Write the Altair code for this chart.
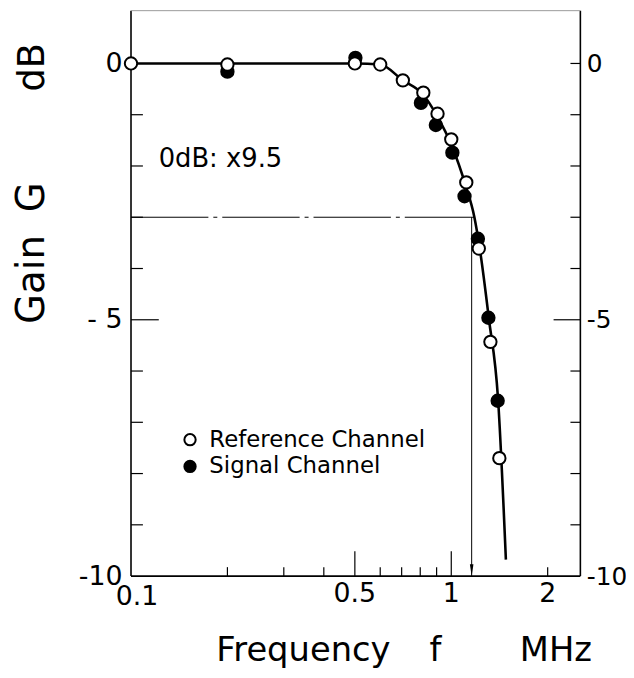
import altair as alt
import pandas as pd

# ---------------- data ----------------
ref_freq = [0.1, 0.2, 0.5, 0.6, 0.706, 0.818, 0.906, 1.0, 1.114, 1.219, 1.325, 1.413]
ref_gain = [0.0, -0.02, 0.0, -0.02, -0.33, -0.57, -0.98, -1.48, -2.32, -3.61, -5.43, -7.70]

sig_freq = [0.2, 0.502, 0.804, 0.895, 1.008, 1.10, 1.211, 1.306, 1.396]
sig_gain = [-0.16, 0.11, -0.77, -1.20, -1.74, -2.59, -3.42, -4.96, -6.58]

curve_freq = [0.1, 0.5, 0.6, 0.706, 0.82, 0.906, 1.0, 1.11, 1.18, 1.23, 1.31, 1.40, 1.481]
curve_gain = [0.0, 0.0, -0.02, -0.33, -0.62, -1.04, -1.58, -2.39, -2.99, -3.65, -4.97, -6.55, -9.68]

cut_level = [-3]
cut_freq_start = [0.1]
cut_freq_end = [1.179]
arrow_freq = [1.158]
arrow_bottom = [-10]

x_label_values = [0.5, 1, 2]
x_label_texts = ["0.5", "1", "2"]
x_first_label_value = [0.1]
x_first_label_text = ["0.1"]
y_label_values = [0, -5, -10]
x_minor_ticks = [0.2, 0.3, 0.4, 0.6, 0.7, 0.8, 0.9, 2]
x_major_ticks = [0.5, 1]
y_minor_ticks = [-1, -2, -3, -4, -6, -7, -8, -9]
y_major_ticks = [-5]
y_right_minor_ticks = [0, -1, -2, -3, -4, -6, -7, -8, -9]

note_text = ["0dB: x9.5"]
note_freq = [0.122]
note_gain = [-1.87]

x_domain = [0.1, 2.53]
y_domain = [-10, 1.03]

# ---------------- chart ----------------
FONT = "DejaVu Sans"
W, H = 453, 570

pts = pd.DataFrame({
    "channel": ["Signal Channel"] * len(sig_freq) + ["Reference Channel"] * len(ref_freq),
    "freq": sig_freq + ref_freq,
    "gain": sig_gain + ref_gain,
})
pts["ord"] = range(len(pts))
curve = pd.DataFrame({"freq": curve_freq, "gain": curve_gain})
cut = pd.DataFrame({"f1": cut_freq_start, "f2": cut_freq_end, "g": cut_level})
arrow = pd.DataFrame({"f": arrow_freq, "g1": cut_level, "g2": arrow_bottom})
note = pd.DataFrame({"f": note_freq, "g": note_gain, "t": note_text})
xlab = pd.DataFrame({"v": x_label_values, "t": x_label_texts})
xlab0 = pd.DataFrame({"v": x_first_label_value, "t": x_first_label_text})

xs = alt.Scale(type="log", domain=x_domain, nice=False)
ys = alt.Scale(domain=y_domain, nice=False, zero=False)

y_left = alt.Axis(
    orient="left", values=y_label_values,
    labelExpr="datum.value == 0 ? '0' : (datum.value == -5 ? '- 5' : '-10')",
    ticks=False, tickSize=0, domain=False, grid=False, labelFontSize=27, labelPadding=9,
    labelColor="black", labelFont=FONT, title=None, labelFlush=False, labelOverlap=False,
)
y_right = alt.Axis(
    orient="right", values=y_label_values,
    labelExpr="datum.value == 0 ? '0' : (datum.value == -5 ? '-5' : '-10')",
    ticks=False, tickSize=0, domain=False, grid=False, labelFontSize=25, labelPadding=6,
    labelColor="black", labelFont=FONT, title=None, labelFlush=False, labelOverlap=False,
)

one = pd.DataFrame({"k": [0]})

# frame: left, right, bottom dark; top faint
frame = [
    alt.Chart(one).mark_rule(color="black", strokeWidth=1.6).encode(
        x=alt.value(0), y=alt.value(0), y2=alt.value(H)),
    alt.Chart(one).mark_rule(color="black", strokeWidth=1.6).encode(
        x=alt.value(W), y=alt.value(0), y2=alt.value(H)),
    alt.Chart(one).mark_rule(color="black", strokeWidth=1.6).encode(
        x=alt.value(0), x2=alt.value(W), y=alt.value(H)),
    alt.Chart(one).mark_rule(color="#9a9a9a", strokeWidth=1).encode(
        x=alt.value(0), x2=alt.value(W), y=alt.value(0)),
]

line = alt.Chart(curve).mark_line(color="black", strokeWidth=2.6, interpolate="monotone").encode(
    x=alt.X("freq:Q", scale=xs, axis=None),
    y=alt.Y("gain:Q", scale=ys, axis=y_left),
)

points = alt.Chart(pts).mark_circle(size=155, stroke="black", strokeWidth=2, opacity=1).encode(
    x=alt.X("freq:Q", scale=xs, axis=None),
    y=alt.Y("gain:Q", scale=ys, axis=None),
    fill=alt.Fill(
        "channel:N",
        scale=alt.Scale(domain=["Reference Channel", "Signal Channel"], range=["white", "black"]),
        legend=alt.Legend(
            title=None, orient="none", legendX=48, legendY=421, padding=0,
            labelFontSize=23, labelFont=FONT, labelColor="black", labelOffset=8, labelLimit=0,
            symbolType="circle", symbolSize=130, symbolStrokeColor="black",
            symbolStrokeWidth=2, symbolOpacity=1, rowPadding=3,
        ),
    ),
    order=alt.Order("ord:Q"),
)

cut_line = alt.Chart(cut).mark_rule(color="black", strokeWidth=1, strokeDash=[78, 5, 4, 5]).encode(
    x=alt.X("f1:Q", scale=xs, axis=None), x2="f2:Q",
    y=alt.Y("g:Q", scale=ys, axis=None),
)
arrow_line = alt.Chart(arrow).mark_rule(color="black", strokeWidth=1).encode(
    x=alt.X("f:Q", scale=xs, axis=None),
    y=alt.Y("g1:Q", scale=ys, axis=None), y2="g2:Q",
)
arrow_head = alt.Chart(arrow).mark_point(
    shape="M-0.3,-1L0.3,-1L0,1Z", filled=True, size=144, color="black", opacity=1, yOffset=-6
).encode(
    x=alt.X("f:Q", scale=xs, axis=None),
    y=alt.Y("g2:Q", scale=ys, axis=None),
)

def xticks(vals, length):
    return alt.Chart(pd.DataFrame({"v": vals})).mark_rule(color="black", strokeWidth=1.2).encode(
        x=alt.X("v:Q", scale=xs, axis=None), y=alt.value(H), y2=alt.value(H - length)
    )

def yticks(vals, x0, x1, axis=None):
    return alt.Chart(pd.DataFrame({"v": vals})).mark_rule(color="black", strokeWidth=1.2).encode(
        y=alt.Y("v:Q", scale=ys, axis=axis), x=alt.value(x0), x2=alt.value(x1)
    )

ticks = [
    xticks(x_minor_ticks, 9),
    xticks(x_major_ticks, 25),
    yticks(y_minor_ticks, 0, 12),
    yticks(y_major_ticks, 0, 28),
    yticks(y_right_minor_ticks, W, W - 10, axis=y_right),
    yticks(y_major_ticks, W, W - 27),
]

x_labels = [
    alt.Chart(xlab).mark_text(align="center", baseline="top", fontSize=27, font=FONT,
                              color="black").encode(
        x=alt.X("v:Q", scale=xs, axis=None), y=alt.value(H + 5), text="t:N"),
    alt.Chart(xlab0).mark_text(align="center", baseline="top", fontSize=27, font=FONT,
                               color="black", dx=6).encode(
        x=alt.X("v:Q", scale=xs, axis=None), y=alt.value(H + 8), text="t:N"),
]

note_mark = alt.Chart(note).mark_text(
    align="left", baseline="middle", fontSize=26, font=FONT, color="black"
).encode(
    x=alt.X("f:Q", scale=xs, axis=None), y=alt.Y("g:Q", scale=ys, axis=None), text="t:N"
)

def label(txt, px, py, size, angle=0, align="left", baseline="alphabetic"):
    return alt.Chart(one).mark_text(
        text=txt, fontSize=size, font=FONT, color="black", angle=angle, align=align, baseline=baseline
    ).encode(x=alt.value(px), y=alt.value(py))

titles = [
    label("Frequency", 86, 656, 34),
    label("f", 301, 656, 34),
    label("MHz", 392, 656, 34),
    label("Gain", -88, 271, 39, angle=270, align="center"),
    label("G", -88, 188, 39, angle=270, align="center"),
    label("dB", -88, 57, 37, angle=270, align="center"),
]

chart = alt.layer(
    line, cut_line, arrow_line, arrow_head, *frame, *ticks, points, note_mark, *x_labels, *titles
).resolve_axis(y="independent").properties(
    width=W, height=H,
    autosize=alt.AutoSizeParams(type="none"),
    padding={"left": 124, "top": 0, "right": 46, "bottom": 92},
).configure(background="white", font=FONT).configure_view(strokeWidth=0)

chart.save("out.html", embed_options={"renderer": "svg", "actions": False})
